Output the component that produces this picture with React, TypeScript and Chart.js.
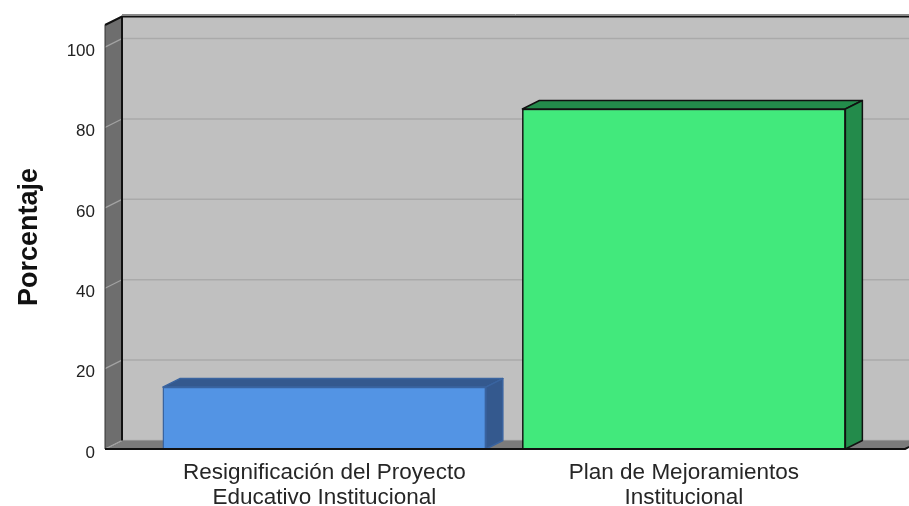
import React, { useEffect, useRef } from "react";
import { Chart, registerables } from "chart.js";

Chart.register(...registerables);

// ---- data ----
const categoryLabels: string[][] = [
  ["Resignificación del Proyecto", "Educativo Institucional"],
  ["Plan de Mejoramientos", "Institucional"],
];
const percentages: number[] = [15.4, 84.6];
const yTickValues: number[] = [0, 20, 40, 60, 80, 100];
const yAxisTitle = "Porcentaje";

// ---- styles ----
const frontColors = ["#5394e4", "#42e97c"];
const shadeColors = ["#34598e", "#238b4b"];
const edgeColors = ["#3a64a0", "#111111"];
const FONT = '"Liberation Sans", Arial, Helvetica, sans-serif';
const DX = 17;
const DY = 8.5;

const box3d = {
  id: "box3d",
  beforeDatasetsDraw(chart: any) {
    const { ctx, chartArea, scales } = chart;
    const { left, right, top, bottom } = chartArea;
    const y = scales.y;
    const W = chart.width;
    ctx.save();
    // back wall
    ctx.fillStyle = "#c0c0c0";
    ctx.fillRect(left + DX, top - DY, W - (left + DX), bottom - top);
    // back wall grid
    ctx.lineWidth = 1.5;
    ctx.strokeStyle = "#aaaaaa";
    yTickValues.forEach((v) => {
      const py = y.getPixelForValue(v) - DY;
      ctx.beginPath();
      ctx.moveTo(left + DX, py);
      ctx.lineTo(W, py);
      ctx.stroke();
    });
    // left wall
    ctx.fillStyle = "#6e6e6e";
    ctx.beginPath();
    ctx.moveTo(left, top);
    ctx.lineTo(left + DX, top - DY);
    ctx.lineTo(left + DX, bottom - DY);
    ctx.lineTo(left, bottom);
    ctx.closePath();
    ctx.fill();
    ctx.strokeStyle = "#a3a3a3";
    ctx.lineWidth = 1.2;
    yTickValues.forEach((v) => {
      const py = y.getPixelForValue(v);
      ctx.beginPath();
      ctx.moveTo(left, py);
      ctx.lineTo(left + DX, py - DY);
      ctx.stroke();
    });
    // floor
    ctx.fillStyle = "#7b7b7b";
    ctx.beginPath();
    ctx.moveTo(left + 1, bottom);
    ctx.lineTo(left + DX + 1, bottom - DY);
    ctx.lineTo(right + DX, bottom - DY);
    ctx.lineTo(right, bottom);
    ctx.closePath();
    ctx.fill();
    // outlines
    ctx.strokeStyle = "#8a8a8a";
    ctx.lineWidth = 1;
    ctx.beginPath();
    ctx.moveTo(left + DX, top - DY - 2);
    ctx.lineTo(W, top - DY - 2);
    ctx.stroke();
    ctx.strokeStyle = "#111111";
    ctx.lineWidth = 2;
    ctx.beginPath();
    ctx.moveTo(left, top);
    ctx.lineTo(left + DX, top - DY);
    ctx.lineTo(W, top - DY);
    ctx.moveTo(left + DX, top - DY);
    ctx.lineTo(left + DX, bottom - DY);
    ctx.stroke();
    ctx.strokeStyle = "#333333";
    ctx.lineWidth = 1;
    ctx.beginPath();
    ctx.moveTo(left, top);
    ctx.lineTo(left, bottom);
    ctx.stroke();
    ctx.restore();
  },
  afterDatasetsDraw(chart: any) {
    const { ctx, chartArea } = chart;
    const { left, right, bottom } = chartArea;
    const meta = chart.getDatasetMeta(0);
    ctx.save();
    meta.data.forEach((bar: any, i: number) => {
      const p = bar.getProps(["x", "y", "base", "width"], true);
      const x1 = p.x - p.width / 2;
      const x2 = p.x + p.width / 2;
      const yt = p.y;
      const yb = p.base;
      ctx.fillStyle = shadeColors[i];
      ctx.strokeStyle = edgeColors[i];
      ctx.lineWidth = 1.5;
      ctx.lineJoin = "round";
      ctx.beginPath();
      ctx.moveTo(x1, yt);
      ctx.lineTo(x1 + DX, yt - DY);
      ctx.lineTo(x2 + DX, yt - DY);
      ctx.lineTo(x2, yt);
      ctx.closePath();
      ctx.fill();
      ctx.stroke();
      ctx.beginPath();
      ctx.moveTo(x2, yt);
      ctx.lineTo(x2 + DX, yt - DY);
      ctx.lineTo(x2 + DX, yb - DY);
      ctx.lineTo(x2, yb);
      ctx.closePath();
      ctx.fill();
      ctx.stroke();
    });
    // floor front edge
    ctx.strokeStyle = "#111111";
    ctx.lineWidth = 2;
    ctx.beginPath();
    ctx.moveTo(left, bottom);
    ctx.lineTo(right, bottom);
    ctx.lineTo(right + DX, bottom - DY);
    ctx.stroke();
    ctx.restore();
  },
};

export default function App() {
  const canvasRef = useRef<HTMLCanvasElement | null>(null);

  useEffect(() => {
    if (!canvasRef.current) return;
    const points = percentages.map((v, i) => ({ x: i, y: v }));
    const chart = new Chart(canvasRef.current, {
      type: "bar",
      data: {
        datasets: [
          {
            data: points as any,
            backgroundColor: frontColors,
            borderColor: edgeColors,
            borderWidth: 1.5,
            borderSkipped: "bottom",
            barThickness: 323,
          },
        ],
      },
      plugins: [box3d],
      options: {
        responsive: false,
        animation: false,
        devicePixelRatio: 1,
        layout: { padding: { top: 25, right: 4, left: 0, bottom: 0 } },
        plugins: {
          legend: { display: false },
          tooltip: { enabled: false },
        },
        scales: {
          x: {
            type: "linear",
            offset: false,
            bounds: "data",
            min: -0.61,
            max: 1.615,
            grid: { display: false, drawTicks: false, offset: false },
            border: { display: false },
            afterBuildTicks: (s: any) => {
              s.ticks = categoryLabels.map((_, i) => ({ value: i }));
            },
            afterFit: (s: any) => {
              s.height = 57;
            },
            ticks: {
              autoSkip: false,
              maxRotation: 0,
              minRotation: 0,
              padding: 11,
              color: "#262626",
              font: { family: FONT, size: 22.5, lineHeight: 1.12 },
              callback: (v: any) => categoryLabels[v as number] ?? "",
            },
          },
          y: {
            type: "linear",
            min: 0,
            max: 105.5,
            grid: { display: false, drawTicks: false },
            border: { display: false },
            afterBuildTicks: (s: any) => {
              s.ticks = yTickValues.map((v) => ({ value: v }));
            },
            afterFit: (s: any) => {
              s.width = 105;
            },
            ticks: {
              padding: 10,
              labelOffset: 4,
              color: "#222222",
              font: { family: FONT, size: 17 },
            },
            title: {
              display: true,
              text: yAxisTitle,
              color: "#111111",
              font: { family: FONT, size: 27, weight: "bold" },
              padding: { top: 13, bottom: 0 },
            },
          },
        },
      } as any,
    });
    return () => chart.destroy();
  }, []);

  return (
    <div style={{ position: "absolute", left: 0, top: 0, width: 909, height: 506, background: "#ffffff" }}>
      <canvas ref={canvasRef} width={909} height={506} />
    </div>
  );
}
